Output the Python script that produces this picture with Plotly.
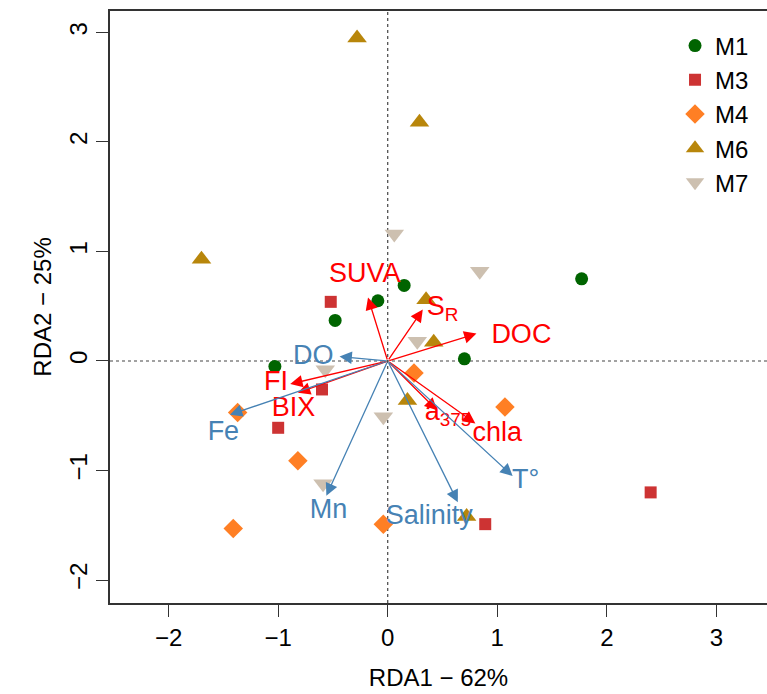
import plotly.graph_objects as go

# Site scores on the first two RDA axes
sites = ["M1", "M3", "M4", "M6", "M7"]
site_x = {
    "M1": [0.15, -0.09, -0.48, -1.03, 0.70, 1.77],
    "M3": [-0.52, -0.60, -1.00, 0.89, 2.40],
    "M4": [-1.37, -0.82, -1.41, -0.04, 0.24, 1.07],
    "M6": [-0.28, 0.29, -1.70, 0.35, 0.42, 0.18, 0.72],
    "M7": [0.06, 0.84, 0.27, -0.57, -0.04, -0.59],
}
site_y = {
    "M1": [0.69, 0.55, 0.37, -0.05, 0.02, 0.75],
    "M3": [0.54, -0.26, -0.61, -1.49, -1.20],
    "M4": [-0.47, -0.91, -1.53, -1.49, -0.11, -0.42],
    "M6": [2.95, 2.18, 0.93, 0.56, 0.17, -0.36, -1.42],
    "M7": [1.16, 0.82, 0.18, -0.08, -0.51, -1.12],
}
site_symbols = ["circle", "square", "diamond", "triangle-up", "triangle-down"]
site_colors = ["#006400", "#CD3333", "#FF7F24", "#B8860B", "#CDC0B0"]
site_sizes = [13, 12, 15, 17, 17]

# Response variables (red arrows)
resp_names = ["SUVA", "S<sub>R</sub>", "DOC", "FI", "BIX", "a<sub>375</sub>", "chla"]
resp_x = [-0.18, 0.32, 0.81, -0.89, -0.82, 0.45, 0.80]
resp_y = [0.58, 0.47, 0.25, -0.21, -0.29, -0.45, -0.57]
resp_lab_x = [-0.21, 0.50, 1.22, -1.02, -0.86, 0.55, 1.00]
resp_lab_y = [0.78, 0.48, 0.23, -0.20, -0.44, -0.48, -0.67]

# Explanatory variables (blue arrows)
env_names = ["DO", "Fe", "Mn", "Salinity", "T°"]
env_x = [-0.44, -1.44, -0.56, 0.64, 1.14]
env_y = [0.04, -0.49, -1.23, -1.29, -1.05]
env_lab_x = [-0.68, -1.50, -0.54, 0.38, 1.26]
env_lab_y = [0.03, -0.66, -1.37, -1.43, -1.10]

RED = "#FF0000"
BLUE = "#4682B4"
FONT = "Liberation Sans, Arial, sans-serif"

fig = go.Figure()

for i, s in enumerate(sites):
    fig.add_trace(go.Scatter(
        x=site_x[s], y=site_y[s], mode="markers", name=s,
        legendgroup=s,
        marker=dict(symbol=site_symbols[i], color=site_colors[i],
                    size=site_sizes[i], line=dict(width=0)),
    ))

annotations = []


def add_arrows(xs, ys, color):
    for x, y in zip(xs, ys):
        annotations.append(dict(
            x=x, y=y, ax=0, ay=0, xref="x", yref="y", axref="x", ayref="y",
            text="", showarrow=True, arrowhead=2, arrowsize=1.9,
            arrowwidth=1.3, arrowcolor=color, standoff=0, startstandoff=0,
        ))


add_arrows(resp_x, resp_y, RED)
add_arrows(env_x, env_y, BLUE)

fig.add_trace(go.Scatter(
    x=resp_lab_x, y=resp_lab_y, mode="text", text=resp_names,
    textfont=dict(color=RED, size=27, family=FONT), showlegend=False,
    hoverinfo="skip",
))
fig.add_trace(go.Scatter(
    x=env_lab_x, y=env_lab_y, mode="text", text=env_names,
    textfont=dict(color=BLUE, size=27, family=FONT), showlegend=False,
    hoverinfo="skip",
))

# Dotted reference lines through the origin
shapes = [
    dict(type="line", xref="x", yref="paper", x0=0, x1=0, y0=0, y1=1,
         line=dict(color="#444444", width=1.2, dash="dot"), layer="below"),
    dict(type="line", xref="paper", yref="y", x0=0, x1=1, y0=0, y1=0,
         line=dict(color="#444444", width=1.2, dash="dot"), layer="below"),
]

fig.update_layout(
    width=767, height=694,
    margin=dict(l=110, r=0, t=11, b=91),
    plot_bgcolor="white", paper_bgcolor="white",
    font=dict(family=FONT, size=24, color="black"),
    annotations=annotations,
    shapes=shapes,
    legend=dict(x=0.86, y=0.979, xanchor="left", yanchor="top",
                font=dict(size=24), bgcolor="rgba(0,0,0,0)",
                tracegroupgap=0, itemwidth=30),
    xaxis=dict(range=[-2.535, 3.462], tickvals=[-2, -1, 0, 1, 2, 3],
               ticktext=["\u22122", "\u22121", "0", "1", "2", "3"],
               showgrid=False, zeroline=False, showline=True, mirror=True,
               linecolor="#333333", linewidth=1.5, ticks="outside",
               ticklen=12, tickwidth=1.2, tickcolor="#333333",
               tickfont=dict(size=24),
               title=dict(text="RDA1 \u2212 62%", font=dict(size=24), standoff=20)),
    yaxis=dict(range=[-2.21, 3.196], tickvals=[-2, -1, 0, 1, 2, 3],
               ticktext=["\u22122", "\u22121", "0", "1", "2", "3"],
               showgrid=False, zeroline=False, showline=True,
               linecolor="#333333", linewidth=1.5, ticks="outside",
               ticklen=12, tickwidth=1.2, tickcolor="#333333",
               tickangle=-90, tickfont=dict(size=24),
               title=dict(text="RDA2 \u2212 25%", font=dict(size=24), standoff=6)),
)

fig.write_html("out.html")
